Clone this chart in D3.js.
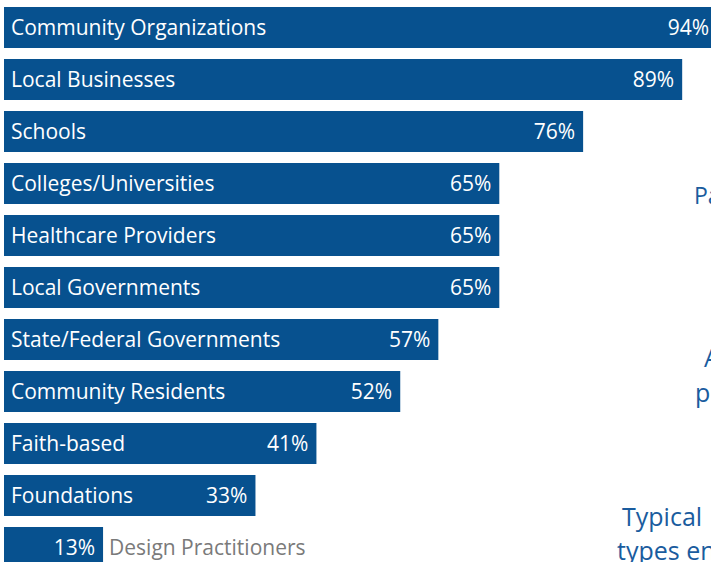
<!DOCTYPE html>
<html><head><meta charset="utf-8">
<script src="https://cdn.jsdelivr.net/npm/d3@7"></script>
<style>html,body{margin:0;padding:0;background:#fff;overflow:hidden}svg{display:block}</style>
</head><body>
<svg id="chart" width="711" height="562"></svg>
<script>
const categories = ["Community Organizations","Local Businesses","Schools","Colleges/Universities","Healthcare Providers","Local Governments","State/Federal Governments","Community Residents","Faith-based","Foundations","Design Practitioners"];
const values = [94,89,76,65,65,65,57,52,41,33,13];
const sideTexts = ["Pa","A","p","Typical","types en"];

const svg = d3.select("#chart");
const W = 711, H = 562;
const x = d3.scaleLinear().domain([0,100]).range([4,766]);
const y = d3.scaleBand().domain(categories).range([7,568]).paddingInner(0.2115).paddingOuter(0);
const blue = "#07518F";
const font = "'Open Sans', sans-serif";
const fs = 21;

const data = categories.map((c,i)=>({c, v: values[i]}));
const g = svg.append("g");
g.selectAll("rect").data(data).join("rect")
  .attr("x", x(0)).attr("y", d=>y(d.c))
  .attr("width", d=>x(d.v)-x(0)).attr("height", y.bandwidth())
  .attr("fill", blue);

// category labels
g.selectAll("text.cat").data(data).join("text").attr("class","cat")
  .attr("x", d => d.v < 20 ? x(d.v)+6 : x(0)+7)
  .attr("y", d=>y(d.c)+y.bandwidth()/2)
  .attr("dy","0.35em")
  .attr("font-family", font).attr("font-size", fs)
  .attr("fill", d => d.v < 20 ? "#7a7a7a" : "#fff")
  .text(d=>d.c);

// value labels
g.selectAll("text.val").data(data).join("text").attr("class","val")
  .attr("x", d=>Math.min(x(d.v), W+6)-8)
  .attr("y", d=>y(d.c)+y.bandwidth()/2)
  .attr("dy","0.35em").attr("text-anchor","end")
  .attr("font-family", font).attr("font-size", fs)
  .attr("fill","#fff")
  .text(d=>d.v+"%");

// cut-off side text from neighbouring content (clipped at the page edge as in the reference)
const sideBlue = "#1A5C9E";
const sidePos = [[694,196],[704,358],[695,393],[622,517],[617,551]];
const sideSize = [23,25,25,25,25];
svg.selectAll("text.side").data(sideTexts).join("text").attr("class","side")
  .attr("x",(d,i)=>sidePos[i][0]).attr("y",(d,i)=>sidePos[i][1])
  .attr("dy","0.35em")
  .attr("font-family", font).attr("font-size", (d,i)=>sideSize[i])
  .attr("fill", sideBlue).text(d=>d);
</script>
</body></html>
